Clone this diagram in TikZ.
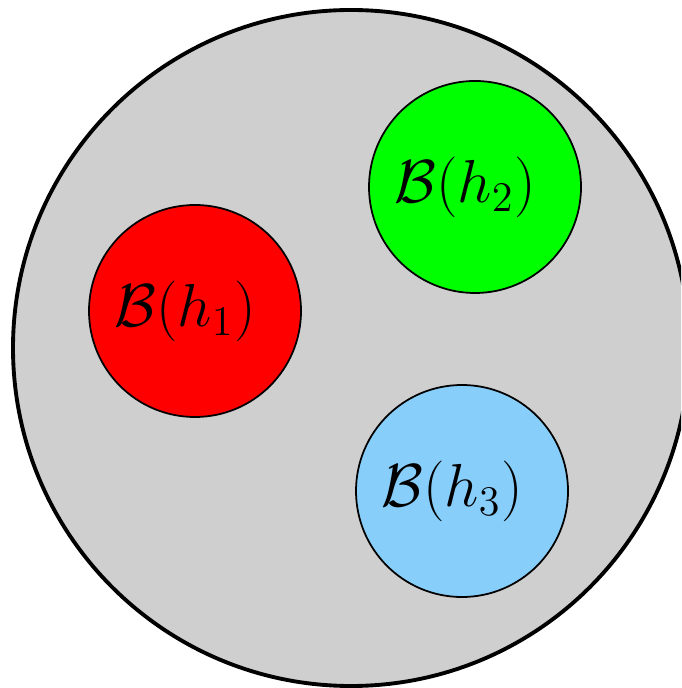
\documentclass[tikz,border=0pt]{standalone}
\usepackage{amsmath}
\usepackage{tikz}
\definecolor{Shade}{HTML}{CFCFCF}
\definecolor{Red}{HTML}{FF0000}
\definecolor{Green}{HTML}{00FF00}
\definecolor{Sky}{HTML}{87CEFA}
\tikzset{world/.style={circle,draw=black,fill=Shade,line width=1.1pt,minimum size=6.76cm,inner sep=0pt},ball/.style={circle,draw=black,line width=.5pt,minimum size=2.12cm,inner sep=0pt},tag/.style={font=\LARGE,inner sep=0pt}}

\begin{document}
\begin{tikzpicture}
        \useasboundingbox(0,0)rectangle(6.81,-6.88);
        \begin{scope}
        \clip(0,0)rectangle(6.81,-6.88);
        \node[world](all)at(3.51,-3.48){};
        \end{scope}
        \node[ball,fill=Red](h1)at(1.95,-3.11){};
        \node[ball,fill=Green](h2)at(4.75,-1.87){};
        \node[ball,fill=Sky](h3)at(4.62,-4.91){};
        \node[tag](t1)at([xshift=-1mm]h1.center){$\mathcal{B}(h_1)$};
        \node[tag](t2)at([xshift=-1mm]h2.center){$\mathcal{B}(h_2)$};
        \node[tag](t3)at([xshift=-1mm]h3.center){$\mathcal{B}(h_3)$};
      \end{tikzpicture}
\end{document}
